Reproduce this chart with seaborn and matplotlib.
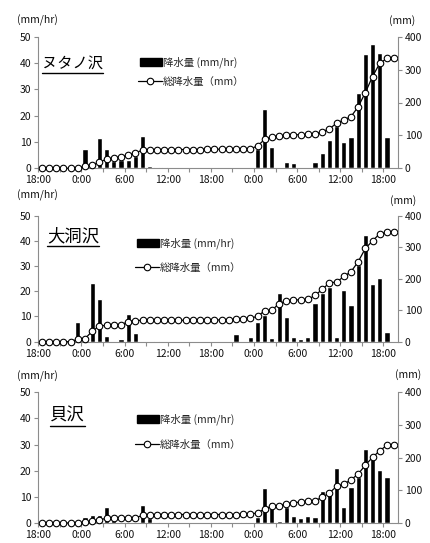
import matplotlib
matplotlib.use('Agg')
import matplotlib.pyplot as plt
import seaborn as sns
import numpy as np
from matplotlib.patches import Patch
from matplotlib.lines import Line2D

sns.set_theme(style="white")
plt.rcParams['font.family'] = ['Noto Sans CJK JP', 'DejaVu Sans']

# hourly categories: 18:00 day 1 ... 19:00 day 3
HOURS = list(range(50))
TICK_LABELS = ['18:00', '', '0:00', '', '6:00', '', '12:00', '', '18:00', '',
               '0:00', '', '6:00', '', '12:00', '', '18:00']
STATIONS = ['ヌタノ沢', '大洞沢', '貝沢']
BAR_LABEL = '降水量 (mm/hr)'
LINE_LABEL = '総降水量（mm）'

# hourly rainfall (mm/hr)
NUTA_RAIN = [0, 0, 0, 0, 0, 0, 7.2, 1.0, 11.6, 7.2, 2.8, 3.2, 3.0, 4.5, 12.2, 0.9, 0.5, 0.5,
             0, 0, 0, 0, 0, 0.3, 0.3, 0, 0, 0, 0.3, 0,
             7.5, 22.7, 8.2, 0.3, 2.5, 2.0, 0, 0.3, 2.5, 5.7, 10.8, 16.0, 10.1, 11.8,
             28.7, 43.4, 47.2, 43.9, 12.0, 0]
OBORA_RAIN = [0, 0, 0, 0, 0, 7.8, 2.0, 23.2, 16.8, 2.3, 0, 1.2, 11.0, 3.6, 0, 0, 0.4,
              0, 0, 0, 0, 0, 0, 0, 0, 0, 0, 3.0, 0, 2.0,
              7.9, 10.6, 1.3, 19.2, 9.7, 2.0, 0.9, 2.0, 15.5, 19.4, 21.6, 2.0, 20.5, 14.5,
              30.4, 42.3, 22.8, 25.1, 3.8, 0]
KAI_RAIN = [0, 0, 0, 0, 0, 0, 2.4, 3.1, 3.1, 6.2, 1.0, 0, 0, 0, 6.7, 1.9, 0.5,
            0, 0, 0, 0, 0, 0, 0, 0, 0, 0, 0, 0.5, 0,
            2.4, 13.3, 8.2, 0.8, 6.0, 2.7, 1.8, 2.7, 2.2, 12.2, 12.8, 21.2, 6.0, 13.6,
            17.5, 28.2, 24.4, 20.3, 17.7, 0.3]

# cumulative rainfall (mm)
NUTA_TOTAL = [0, 0, 0, 0, 0, 0, 7, 9, 20, 27, 31, 35, 40, 47, 55,
              56, 57, 57, 57, 57, 57, 57, 57, 58, 58, 58, 58, 58, 59, 59,
              68, 88, 96, 98, 100, 102, 102, 103, 105, 111, 120, 137, 147, 157,
              187, 230, 279, 319, 334, 334]
OBORA_TOTAL = [0, 0, 0, 0, 0, 8, 10, 33, 50, 52, 52, 53, 64, 67,
               68, 68, 68, 68, 68, 68, 68, 68, 68, 69, 69, 69, 69, 72, 72, 74,
               81, 98, 100, 121, 130, 132, 133, 134, 147, 166, 187, 189, 207, 222,
               254, 296, 320, 343, 347, 347]
KAI_TOTAL = [0, 0, 0, 0, 0, 0, 2.5, 6, 9, 15, 16, 16, 16, 16, 23, 25, 26,
             26, 26, 26, 26, 26, 26, 26, 26, 26, 26, 26, 27, 27,
             31, 43, 52, 53, 59, 62, 64, 66, 68, 79, 92, 112, 119, 132,
             150, 177, 201, 221, 238, 239]

RAIN = [NUTA_RAIN, OBORA_RAIN, KAI_RAIN]
TOTAL = [NUTA_TOTAL, OBORA_TOTAL, KAI_TOTAL]

W, H = 431, 543
LEFT_PX, RIGHT_PX = 38.3, 397.7
PANEL_PX = [(36.7, 168.3), (215.7, 341.7), (392.3, 523.0)]
GRAY = '#8c8c8c'

# label positions in pixels
NAME_POS = [(42, 63), (47, 236), (50, 416)]
NAME_SIZE = [11, 12.5, 12.5]
KEY_POS = [(140, 62, 82), (137, 243, 268), (137, 419, 445)]
UNIT_L = [(37, 20), (37, 195), (37, 376)]
UNIT_R = [(402, 21), (403, 201), (408, 375)]

fig = plt.figure(figsize=(W / 100, H / 100), dpi=100)


def fx(px):
    return px / W


def fy(py):
    return 1 - py / H


name_texts = []
for i in range(3):
    top, bot = PANEL_PX[i]
    ax = fig.add_axes([fx(LEFT_PX), fy(bot), (RIGHT_PX - LEFT_PX) / W, (bot - top) / H])
    sns.barplot(x=HOURS, y=RAIN[i], ax=ax, color='black', width=0.72, saturation=1)
    ax.set_xlim(-0.5, 49.5)
    ax.set_ylim(0, 50)
    ax.set_yticks(range(0, 51, 10))
    ax.set_xticks(np.arange(-0.5, 48, 3))
    ax.set_xticklabels(TICK_LABELS)
    ax.set_xlabel('')
    ax.set_ylabel('')

    ax2 = ax.twinx()
    sns.lineplot(x=HOURS, y=TOTAL[i], ax=ax2, color='black', linewidth=0.9,
                 marker='o', markersize=4.7, markerfacecolor='white',
                 markeredgecolor='black', markeredgewidth=0.8, clip_on=False)
    ax2.set_ylim(0, 400)
    ax2.set_yticks(range(0, 401, 100))
    ax2.set_ylabel('')

    for a in (ax, ax2):
        for s in a.spines.values():
            s.set_color(GRAY)
            s.set_linewidth(0.8)
        a.spines['top'].set_visible(False)
    ax.spines['right'].set_visible(False)
    ax2.spines['left'].set_visible(False)
    ax2.spines['bottom'].set_visible(False)

    ax.tick_params(axis='x', bottom=True, direction='out', length=3, width=0.8,
                   color=GRAY, labelsize=7.5, pad=2, labelcolor='#111111')
    ax.tick_params(axis='y', left=True, direction='out', length=3, width=0.8,
                   color=GRAY, labelsize=7.5, pad=2, labelcolor='#111111')
    ax2.tick_params(axis='y', right=True, direction='out', length=3, width=0.8,
                    color=GRAY, labelsize=7.5, pad=2, labelcolor='#111111')

    # legend entries placed one by one
    kx, ky1, ky2 = KEY_POS[i]
    bar_key = ax2.legend([Patch(facecolor='black', edgecolor='black')], [BAR_LABEL],
                         loc='center left', bbox_to_anchor=(fx(kx), fy(ky1)),
                         bbox_transform=fig.transFigure, frameon=False, fontsize=7.5,
                         handlelength=2.1, handleheight=0.8, handletextpad=0.1,
                         borderpad=0, borderaxespad=0)
    ax2.add_artist(bar_key)
    line_handle = Line2D([], [], color='black', linewidth=0.9, marker='o', markersize=4.7,
                         markerfacecolor='white', markeredgecolor='black',
                         markeredgewidth=0.8)
    ax2.legend([line_handle], [LINE_LABEL], loc='center left',
               bbox_to_anchor=(fx(kx - 2), fy(ky2)), bbox_transform=fig.transFigure,
               frameon=False, fontsize=7.5, handlelength=2.3, handletextpad=0.1,
               borderpad=0, borderaxespad=0)

    nx, ny = NAME_POS[i]
    t = fig.text(fx(nx), fy(ny), STATIONS[i], fontsize=NAME_SIZE[i], ha='left',
                 va='center', color='black')
    name_texts.append(t)

    fig.text(fx(UNIT_L[i][0]), fy(UNIT_L[i][1]), '(mm/hr)', fontsize=7.5,
             ha='center', va='center', color='#111111')
    fig.text(fx(UNIT_R[i][0]), fy(UNIT_R[i][1]), '(mm)', fontsize=7.5,
             ha='center', va='center', color='#111111')

# underline the station names
fig.canvas.draw()
renderer = fig.canvas.get_renderer()
for t in name_texts:
    bb = t.get_window_extent(renderer)
    y_line = bb.y0 - 1
    fig.add_artist(Line2D([bb.x0 / W, bb.x1 / W], [y_line / H, y_line / H],
                          transform=fig.transFigure, color='black', linewidth=1.0))

fig.savefig('out.png', dpi=100)
